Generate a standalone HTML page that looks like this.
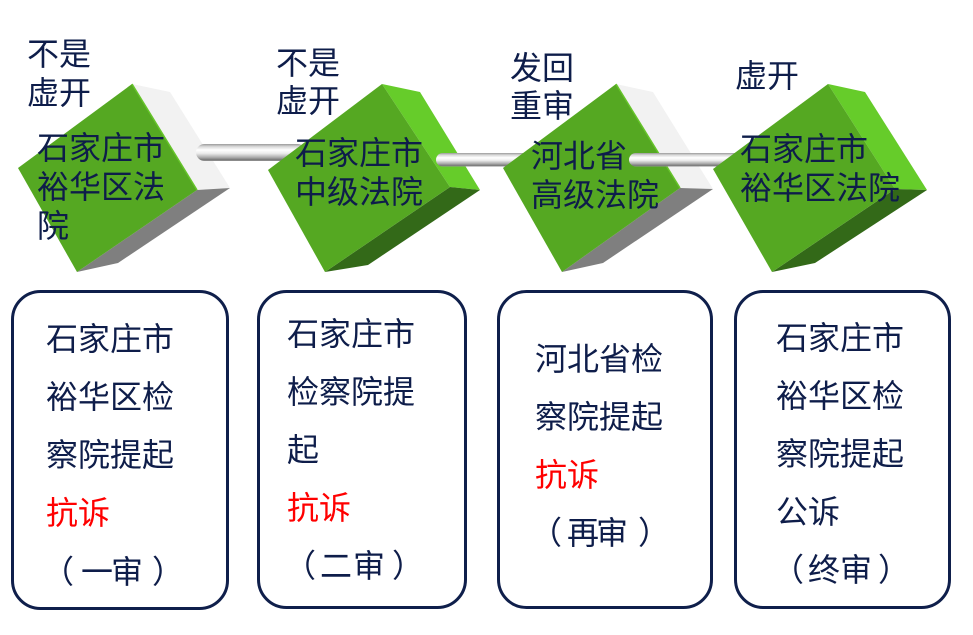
<!DOCTYPE html>
<html>
<head>
<meta charset="utf-8">
<style>
html,body{margin:0;padding:0;background:#fff;}
svg{display:block;}
text{font-family:"Liberation Sans","Noto Sans CJK SC","WenQuanYi Zen Hei",sans-serif;font-size:32px;fill:#0e1d4a;}
.r{fill:#ff0000;}
</style>
</head>
<body>
<svg width="973" height="635" viewBox="0 0 973 635" xmlns="http://www.w3.org/2000/svg">
<defs>
<linearGradient id="rod" x1="0" y1="0" x2="0" y2="1">
<stop offset="0" stop-color="#9a9a9a"/>
<stop offset="0.15" stop-color="#d8d8d8"/>
<stop offset="0.35" stop-color="#ffffff"/>
<stop offset="0.55" stop-color="#ececec"/>
<stop offset="0.8" stop-color="#a8a8a8"/>
<stop offset="0.93" stop-color="#777777"/>
<stop offset="1" stop-color="#999999"/>
</linearGradient>
</defs>

<!-- Cube 1 (white/gray sides) -->
<polygon points="132,84 170,92 230,188 197,190" fill="#f2f2f2"/>
<polygon points="197,190 230,188 118,263 77,272" fill="#7f7f7f"/>
<polygon points="132,84 18,168 77,272 197,190" fill="#55a822"/>
<line x1="132" y1="84" x2="197" y2="190" stroke="#66c42a" stroke-width="1.5"/>

<!-- Rod 1 -->
<rect x="196" y="144" width="110" height="17" rx="8.5" fill="url(#rod)"/>

<!-- Cube 2 (green sides) -->
<polygon points="382,84 420,92 480,190 450,187" fill="#66cc2a"/>
<polygon points="450,187 480,190 368,265 325,272" fill="#336918"/>
<polygon points="382,84 268,170 325,272 450,187" fill="#55a822"/>

<!-- Rod 2 -->
<rect x="436" y="153" width="110" height="13.5" rx="6.75" fill="url(#rod)"/>

<!-- Cube 3 (white/gray sides) -->
<polygon points="616,84 653,92 713,189 680,188" fill="#f2f2f2"/>
<polygon points="680,188 713,189 603,263 562,272" fill="#7f7f7f"/>
<polygon points="616,84 503,168 562,272 680,188" fill="#55a822"/>
<line x1="616" y1="84" x2="680" y2="188" stroke="#66c42a" stroke-width="1.5"/>

<!-- Rod 3 -->
<rect x="629" y="153" width="125" height="13.5" rx="6.75" fill="url(#rod)"/>

<!-- Cube 4 (green sides) -->
<polygon points="828,84 865,92 927,190 895,189" fill="#66cc2a"/>
<polygon points="895,189 927,190 815,263 772,272" fill="#336918"/>
<polygon points="828,84 713,169 772,272 895,189" fill="#55a822"/>

<!-- Top labels -->
<text x="27" y="65">不是</text>
<text x="27" y="104">虚开</text>
<text x="276" y="74">不是</text>
<text x="276" y="112">虚开</text>
<text x="510" y="79">发回</text>
<text x="510" y="117">重审</text>
<text x="735" y="87">虚开</text>

<!-- Cube labels -->
<text x="37" y="159">石家庄市</text>
<text x="37" y="198">裕华区法</text>
<text x="37" y="237">院</text>
<text x="295" y="164">石家庄市</text>
<text x="295" y="203">中级法院</text>
<text x="531" y="167">河北省</text>
<text x="531" y="206">高级法院</text>
<text x="740" y="160">石家庄市</text>
<text x="740" y="199">裕华区法院</text>

<!-- Boxes -->
<rect x="12.5" y="291.5" width="215" height="317" rx="28" fill="none" stroke="#0f1f4b" stroke-width="3"/>
<rect x="258.5" y="291.5" width="207" height="316" rx="28" fill="none" stroke="#0f1f4b" stroke-width="3"/>
<rect x="498.5" y="291.5" width="213" height="316" rx="28" fill="none" stroke="#0f1f4b" stroke-width="3"/>
<rect x="735.5" y="291.5" width="214" height="316" rx="28" fill="none" stroke="#0f1f4b" stroke-width="3"/>

<!-- Box 1 text -->
<text x="46" y="350">石家庄市</text>
<text x="46" y="408">裕华区检</text>
<text x="46" y="466">察院提起</text>
<text x="46" y="524" class="r">抗诉</text>
<text x="42" y="583">（</text>
<text x="81" y="583">一</text>
<text x="111" y="583">审</text>
<text x="152" y="583">）</text>

<!-- Box 2 text -->
<text x="287" y="345">石家庄市</text>
<text x="287" y="403">检察院提</text>
<text x="287" y="461">起</text>
<text x="287" y="519" class="r">抗诉</text>
<text x="284" y="577">（</text>
<text x="320" y="577">二</text>
<text x="353" y="577">审</text>
<text x="392" y="577">）</text>

<!-- Box 3 text -->
<text x="535" y="370">河北省检</text>
<text x="535" y="428">察院提起</text>
<text x="535" y="486" class="r">抗诉</text>
<text x="530" y="544">（</text>
<text x="567" y="544">再</text>
<text x="596" y="544">审</text>
<text x="638" y="544">）</text>

<!-- Box 4 text -->
<text x="776" y="349">石家庄市</text>
<text x="776" y="407">裕华区检</text>
<text x="776" y="465">察院提起</text>
<text x="776" y="523">公诉</text>
<text x="772" y="581">（</text>
<text x="808" y="581">终</text>
<text x="840" y="581">审</text>
<text x="878" y="581">）</text>
</svg>
</body>
</html>
